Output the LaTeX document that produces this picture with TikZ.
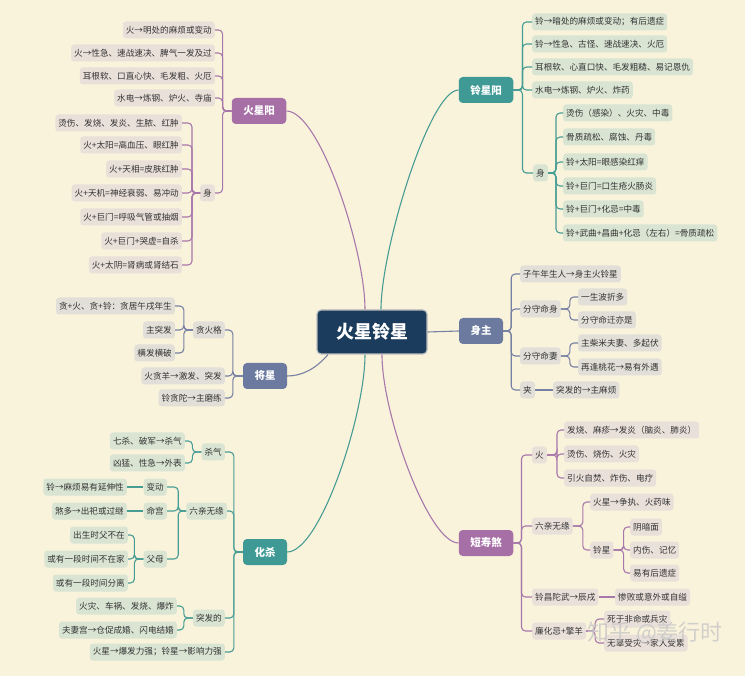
\documentclass[tikz,border=0pt]{standalone}
\usepackage{fontspec}
\setmainfont{Noto Sans CJK SC}
\usepackage{tikz}
\definecolor{bgc}{HTML}{FAF3DC}
\definecolor{hubc}{HTML}{1B3C5C}
\definecolor{hubedge}{HTML}{BDBDBD}
\definecolor{ink}{HTML}{333333}
\definecolor{pmain}{HTML}{A66FA6}
\definecolor{tmain}{HTML}{3F9A95}
\definecolor{smain}{HTML}{6C7AA0}
\definecolor{pfill}{HTML}{EAE0DA}
\definecolor{tfill}{HTML}{D9E4D3}
\definecolor{sfill}{HTML}{E1DFD7}
\definecolor{pline}{HTML}{A978AA}
\definecolor{tline}{HTML}{479C94}
\definecolor{sline}{HTML}{7680A2}
\tikzset{
  hub/.style={fill=hubc,draw=hubedge,line width=1.2pt,rounded corners=4pt,text=white,font=\fontsize{18}{20}\selectfont\bfseries,inner xsep=19pt,inner ysep=0pt,minimum height=44pt},
  mainbox/.style={rounded corners=4pt,text=white,font=\fontsize{10.5}{12}\selectfont\bfseries,inner xsep=11.5pt,inner ysep=0pt,minimum height=26pt},
  pmainbox/.style={mainbox,fill=pmain},
  tmainbox/.style={mainbox,fill=tmain},
  smainbox/.style={mainbox,fill=smain},
  leaf/.style={rounded corners=3pt,text=ink,font=\fontsize{8.6}{10}\selectfont,inner xsep=3pt,inner ysep=0pt,minimum height=17pt},
  pleaf/.style={leaf,fill=pfill},
  tleaf/.style={leaf,fill=tfill},
  sleaf/.style={leaf,fill=sfill},
  plink/.style={draw=pline,line width=1.1pt,rounded corners=4pt},
  tlink/.style={draw=tline,line width=1.1pt,rounded corners=4pt},
  slink/.style={draw=sline,line width=1.1pt,rounded corners=4pt},
  mark0/.style={text=gray!45,opacity=0.8,font=\fontsize{22}{24}\selectfont}}
\begin{document}
\begin{tikzpicture}[x=1pt,y=-1pt]
\fill[bgc] (0,0) rectangle (745,676);
\useasboundingbox (0,0) rectangle (745,676);
% centre and main branches
\node[hub] (hub) at (372,332) {火星铃星};
\node[pmainbox] (hyang) at (259,111) {火星阳};
\node[tmainbox] (lyang) at (486,90) {铃星阳};
\node[smainbox] (szhu) at (481,331) {身主};
\node[smainbox] (jx) at (265,376) {将星};
\node[tmainbox] (hsha) at (265,552) {化杀};
\node[pmainbox] (dss) at (486,543) {短寿煞};
\draw[plink] ([xshift=-7pt]hub.north) .. controls +(0,-60) and +(33,0) .. (hyang.east);
\draw[tlink] ([xshift=9pt]hub.north) .. controls +(0,-60) and +(-29,0) .. (lyang.west);
\draw[slink] (hub.east) -- (szhu.west);
\draw[slink] ([xshift=-44pt]hub.south) .. controls +(-12,14) and +(15,0) .. (jx.east);
\draw[tlink] ([xshift=-7pt]hub.south) .. controls +(0,60) and +(33,0) .. (hsha.east);
\draw[plink] ([xshift=10pt]hub.south) .. controls +(0,60) and +(-30,0) .. (dss.west);
% 火星阳
\node[pleaf,anchor=east] (h1) at (215,30) {火→明处的麻烦或变动};
\node[pleaf,anchor=east] (h2) at (215,53) {火→性急、速战速决、脾气一发及过};
\node[pleaf,anchor=east] (h3) at (215,76) {耳根软、口直心快、毛发粗、火厄};
\node[pleaf,anchor=east] (h4) at (215,98) {水电→炼钢、炉火、寺庙};
\node[pleaf,anchor=east] (hshen) at (215,193) {身};
\node[pleaf,anchor=east] (hs1) at (182,123) {烫伤、发烧、发炎、生脓、红肿};
\node[pleaf,anchor=east] (hs2) at (182,145) {火+太阳=高血压、眼红肿};
\node[pleaf,anchor=east] (hs3) at (182,169) {火+天相=皮肤红肿};
\node[pleaf,anchor=east] (hs4) at (182,193) {火+天机=神经衰弱、易冲动};
\node[pleaf,anchor=east] (hs5) at (182,217) {火+巨门=呼吸气管或抽烟};
\node[pleaf,anchor=east] (hs6) at (182,241) {火+巨门+哭虚=自杀};
\node[pleaf,anchor=east] (hs7) at (182,265) {火+太阴=肾病或肾结石};
\foreach \c in {h1,h2,h3,h4,hshen} \draw[plink] (hyang.west) -- ++(-9,0) |- (\c.east);
\foreach \c in {hs1,hs2,hs3,hs4,hs5,hs6,hs7} \draw[plink] (hshen.west) -- ++(-8,0) |- (\c.east);
% 铃星阳
\node[tleaf,anchor=west] (l1) at (532,22) {铃→暗处的麻烦或变动；有后遗症};
\node[tleaf,anchor=west] (l2) at (532,44) {铃→性急、古怪、速战速决、火厄};
\node[tleaf,anchor=west] (l3) at (532,67) {耳根软、心直口快、毛发粗糙、易记恩仇};
\node[tleaf,anchor=west] (l4) at (532,90) {水电→炼钢、炉火、炸药};
\node[tleaf,anchor=west] (lshen) at (533,173) {身};
\node[tleaf,anchor=west] (ls1) at (563,113) {烫伤（感染）、火灾、中毒};
\node[tleaf,anchor=west] (ls2) at (563,137) {骨质疏松、腐蚀、丹毒};
\node[tleaf,anchor=west] (ls3) at (563,162) {铃+太阳=眼感染红痒};
\node[tleaf,anchor=west] (ls4) at (563,186) {铃+巨门=口生疮火肠炎};
\node[tleaf,anchor=west] (ls5) at (563,209) {铃+巨门+化忌=中毒};
\node[tleaf,anchor=west] (ls6) at (563,233) {铃+武曲+昌曲+化忌（左右）=骨质疏松};
\foreach \c in {l1,l2,l3,l4,lshen} \draw[tlink] (lyang.east) -- ++(9,0) |- (\c.west);
\foreach \c in {ls1,ls2,ls3,ls4,ls5,ls6} \draw[tlink] (lshen.east) -- ++(8,0) |- (\c.west);
% 身主
\node[sleaf,anchor=west] (z1) at (520,274) {子午年生人→身主火铃星};
\node[sleaf,anchor=west] (z2) at (520,309) {分守命身};
\node[sleaf,anchor=west] (z3) at (520,356) {分守命妻};
\node[sleaf,anchor=west] (z4) at (520,390) {夹};
\node[sleaf,anchor=west] (z21) at (578,297) {一生波折多};
\node[sleaf,anchor=west] (z22) at (578,320) {分守命迁亦是};
\node[sleaf,anchor=west] (z31) at (578,343) {主柴米夫妻、多起伏};
\node[sleaf,anchor=west] (z32) at (578,367) {再逢桃花→易有外遇};
\node[sleaf,anchor=west] (z41) at (553,390) {突发的→主麻烦};
\foreach \c in {z1,z2,z3,z4} \draw[slink] (szhu.east) -- ++(8,0) |- (\c.west);
\foreach \c in {z21,z22} \draw[slink] (z2.east) -- ++(9,0) |- (\c.west);
\foreach \c in {z31,z32} \draw[slink] (z3.east) -- ++(9,0) |- (\c.west);
\draw[slink] (z4.west -| z4.east) -- (z41.west);
% 短寿煞
\node[pleaf,anchor=west] (d1) at (532,455) {火};
\node[pleaf,anchor=west] (d2) at (532,526) {六亲无缘};
\node[pleaf,anchor=west] (d3) at (532,597) {铃昌陀武→辰戌};
\node[pleaf,anchor=west] (d4) at (532,631) {廉化忌+擎羊};
\node[pleaf,anchor=west] (d11) at (564,430) {发烧、麻疹→发炎（脑炎、肺炎）};
\node[pleaf,anchor=west] (d12) at (564,454) {烫伤、烧伤、火灾};
\node[pleaf,anchor=west] (d13) at (564,478) {引火自焚、炸伤、电疗};
\node[pleaf,anchor=west] (d21) at (590,502) {火星→争执、火药味};
\node[pleaf,anchor=west] (d22) at (590,550) {铃星};
\node[pleaf,anchor=west] (d221) at (630,527) {阴暗面};
\node[pleaf,anchor=west] (d222) at (630,550) {内伤、记忆};
\node[pleaf,anchor=west] (d223) at (630,573) {易有后遗症};
\node[pleaf,anchor=west] (d31) at (615,597) {惨败或意外或自缢};
\node[pleaf,anchor=west] (d41) at (604,619) {死于非命或兵灾};
\node[pleaf,anchor=west] (d42) at (604,643) {无辜受灾→家人受累};
\foreach \c in {d1,d2,d3,d4} \draw[plink] (dss.east) -- ++(8,0) |- (\c.west);
\foreach \c in {d11,d12,d13} \draw[plink] (d1.east) -- ++(10,0) |- (\c.west);
\foreach \c in {d21,d22} \draw[plink] (d2.east) -- ++(10,0) |- (\c.west);
\foreach \c in {d221,d222,d223} \draw[plink] (d22.east) -- ++(10,0) |- (\c.west);
\draw[plink] (d3.east) -- (d31.west);
\foreach \c in {d41,d42} \draw[plink] (d4.east) -- ++(9,0) |- (\c.west);
% 将星
\node[sleaf,anchor=east] (j1) at (225,330) {贪火格};
\node[sleaf,anchor=east] (j2) at (225,376) {火贪羊→激发、突发};
\node[sleaf,anchor=east] (j3) at (225,398) {铃贪陀→主磨练};
\node[sleaf,anchor=east] (j11) at (175,306) {贪+火、贪+铃：贪居午戌年生};
\node[sleaf,anchor=east] (j12) at (175,330) {主突发};
\node[sleaf,anchor=east] (j13) at (175,353) {横发横破};
\foreach \c in {j1,j2,j3} \draw[slink] (jx.west) -- ++(-10,0) |- (\c.east);
\foreach \c in {j11,j12,j13} \draw[slink] (j1.west) -- ++(-9,0) |- (\c.east);
% 化杀
\node[tleaf,anchor=east] (k1) at (225,452) {杀气};
\node[tleaf,anchor=east] (k2) at (227,511) {六亲无缘};
\node[tleaf,anchor=east] (k3) at (225,618) {突发的};
\node[tleaf,anchor=east] (k4) at (225,652) {火星→爆发力强；铃星→影响力强};
\node[tleaf,anchor=east] (k11) at (185,441) {七杀、破军→杀气};
\node[tleaf,anchor=east] (k12) at (185,463) {凶猛、性急→外表};
\node[tleaf,anchor=east] (k21) at (167,487) {变动};
\node[tleaf,anchor=east] (k22) at (167,511) {命宫};
\node[tleaf,anchor=east] (k23) at (167,559) {父母};
\node[tleaf,anchor=east] (k211) at (127,487) {铃→麻烦易有延伸性};
\node[tleaf,anchor=east] (k221) at (127,511) {煞多→出祀或过继};
\node[tleaf,anchor=east] (k231) at (128,535) {出生时父不在};
\node[tleaf,anchor=east] (k232) at (128,559) {或有一段时间不在家};
\node[tleaf,anchor=east] (k233) at (128,583) {或有一段时间分离};
\node[tleaf,anchor=east] (k31) at (177,606) {火灾、车祸、发烧、爆炸};
\node[tleaf,anchor=east] (k32) at (177,630) {夫妻宫→仓促成婚、闪电结婚};
\foreach \c in {k1,k2,k3,k4} \draw[tlink] (hsha.west) -- ++(-9,0) |- (\c.east);
\foreach \c in {k11,k12} \draw[tlink] (k1.west) -- ++(-9,0) |- (\c.east);
\foreach \c in {k21,k22,k23} \draw[tlink] (k2.west) -- ++(-8,0) |- (\c.east);
\draw[tlink] (k21.west) -- (k211.east);
\draw[tlink] (k22.west) -- (k221.east);
\foreach \c in {k231,k232,k233} \draw[tlink] (k23.west) -- ++(-9,0) |- (\c.east);
\foreach \c in {k31,k32} \draw[tlink] (k3.west) -- ++(-9,0) |- (\c.east);
% watermark
\node[mark0] (wm) at (655,633) {知乎 @姜行时};
\end{tikzpicture}
\end{document}
